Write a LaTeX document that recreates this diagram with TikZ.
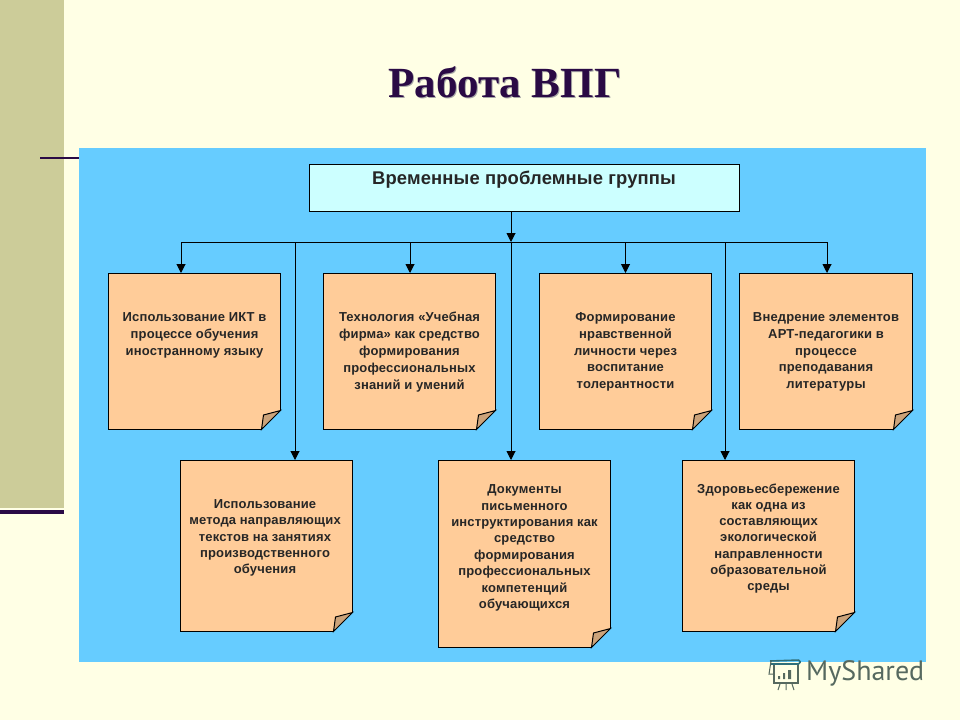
\documentclass[tikz,border=0pt]{standalone}
\usepackage{fontspec}
\setmainfont{Liberation Sans}
\newfontfamily\titlefont{Liberation Serif}
\newfontfamily\markfont{PT Sans}
\newfontfamily\notefont[LetterSpace=1.2]{Liberation Sans}
\newfontfamily\headfont[LetterSpace=0.8]{Liberation Sans}
\usetikzlibrary{arrows.meta}
\definecolor{paper}{HTML}{FFFFE5}
\definecolor{strip}{HTML}{CCCC99}
\definecolor{panel}{HTML}{66CCFF}
\definecolor{notefill}{HTML}{FFCC99}
\definecolor{foldfill}{HTML}{CCA37A}
\definecolor{headfill}{HTML}{CCFFFF}
\definecolor{ink}{HTML}{2A0A45}
\definecolor{markgray}{HTML}{56695F}
\definecolor{markteal}{HTML}{2F6F7A}
\tikzset{
  x=1pt,y=-1pt,
  notetext/.style={font=\notefont\fontsize{13}{16.8}\selectfont\bfseries,text=black!85,align=center,inner sep=0pt},
  notetextlow/.style={font=\notefont\fontsize{13}{16.2}\selectfont\bfseries,text=black!85,align=center,inner sep=0pt},
  noteline/.style={draw=black,line width=1pt,line join=miter},
  link/.style={draw=black,line width=1pt},
  arrowlink/.style={link,-{Triangle[length=9pt,width=9pt]}},
  busline/.style={link},
  markline/.style={draw=markgray,line width=1.4pt}
}
% name, left, top, right, bottom
\newcommand{\notebox}[5]{%
  \fill[notefill] (#2,#3) -- (#4,#3) -- (#4,#5-19) -- (#4-19,#5) -- (#2,#5) -- cycle;
  \fill[foldfill] (#4,#5-19) -- (#4-17,#5-14.5) -- (#4-19,#5) -- cycle;
  \draw[noteline] (#4-19,#5) -- (#4,#5-19) -- (#4-17,#5-14.5) -- cycle;
  \draw[noteline] (#4-19,#5) -- (#2,#5) -- (#2,#3) -- (#4,#3) -- (#4,#5-19);
}
\begin{document}
\begin{tikzpicture}
\useasboundingbox (0,0) rectangle (960,720);
\fill[paper] (0,0) rectangle (960,720);
\fill[strip] (0,0) rectangle (64,508);
\fill[ink] (0,510) rectangle (64,514);
\fill[panel] (79,148) rectangle (926,662);
\fill[ink] (40,156.5) rectangle (79,158.5);
% title
\node[font=\titlefont\fontsize{43}{46}\selectfont\bfseries,text=black!35,anchor=center] at (506,83) {Работа ВПГ};
\node[font=\titlefont\fontsize{43}{46}\selectfont\bfseries,text=ink,anchor=center] (title) at (505,82) {Работа ВПГ};
% header
\node[draw=black,line width=1pt,fill=headfill,minimum width=430pt,minimum height=47pt,inner sep=0pt] (head) at (524.5,188) {};
\node[font=\headfont\fontsize{18.4}{20}\selectfont\bfseries,text=black!85,anchor=center] (headtext) at (524,180) {Временные проблемные группы};
% notes
\notebox{n1}{108.5}{273.5}{280.5}{429.5}
\notebox{n2}{323.5}{273.5}{495.5}{429.5}
\notebox{n3}{539.5}{273.5}{711.5}{429.5}
\notebox{n4}{739.5}{273.5}{912.5}{429.5}
\notebox{n5}{180.5}{460.5}{352.5}{631.5}
\notebox{n6}{438.5}{460.5}{610.5}{647.5}
\notebox{n7}{682.5}{460.5}{854.5}{631.5}
\node[notetext] (t1) at (194.5,335.5) {Использование ИКТ в\\процессе обучения\\иностранному языку};
\node[notetext] (t2) at (409.5,352) {Технология «Учебная\\фирма» как средство\\формирования\\профессиональных\\знаний и умений};
\node[notetext] (t3) at (625.5,352) {Формирование\\нравственной\\личности через\\воспитание\\толерантности};
\node[notetext] (t4) at (826,352) {Внедрение элементов\\АРТ-педагогики в\\процессе\\преподавания\\литературы};
\node[notetextlow] (t5) at (265,538) {Использование\\метода направляющих\\текстов на занятиях\\производственного\\обучения};
\node[notetextlow] (t6) at (524.5,548) {Документы\\письменного\\инструктирования как\\средство\\[1pt]формирования\\профессиональных\\компетенций\\обучающихся};
\node[notetextlow] (t7) at (768.5,538.5) {Здоровьесбережение\\как одна из\\составляющих\\экологической\\направленности\\образовательной\\среды};
% connectors
\coordinate (busl) at (181,242);
\coordinate (busr) at (827,242);
\coordinate (b2) at (410,242);
\coordinate (b3) at (625.5,242);
\coordinate (bj5) at (295,242);
\coordinate (bj6) at (511,242);
\coordinate (bj7) at (725,242);
\coordinate (headout) at (511,211.5);
\coordinate (n5in) at (295,460);
\coordinate (n6in) at (511,460);
\coordinate (n7in) at (725,460);
\coordinate (n1in) at (181,273);
\coordinate (n2in) at (410,273);
\coordinate (n3in) at (625.5,273);
\coordinate (n4in) at (827,273);
\draw[busline] (busl) -- (busr);
\draw[arrowlink] (headout) -- (bj6);
\draw[arrowlink] (bj6) -- (n6in);
\draw[arrowlink] (busl) -- (n1in);
\draw[arrowlink] (b2) -- (n2in);
\draw[arrowlink] (b3) -- (n3in);
\draw[arrowlink] (busr) -- (n4in);
\draw[arrowlink] (bj5) -- (n5in);
\draw[arrowlink] (bj7) -- (n7in);
% watermark
\node[font=\markfont\fontsize{28}{30}\selectfont,text=markgray,anchor=west,inner sep=0pt] (mark) at (806,673) {MyShared};
\draw[draw=markteal,line width=1.6pt,rounded corners=1.5pt] (770,661) -- (800,660) -- (800,664) -- (771,664);
\draw[markline] (774,665) -- (774,683) -- (798,683) -- (798,665);
\draw[draw=markgray,line width=1pt] (771,661) -- (769,674) -- (773,674);
\fill[markgray] (778,676) rectangle (780,679) (783,673) rectangle (785,679) (788,670) rectangle (791,679);
\draw[draw=markgray,line width=1pt] (780,684) -- (778,690) (786,684) -- (786,690) (792,684) -- (794,690);
\end{tikzpicture}
\end{document}
